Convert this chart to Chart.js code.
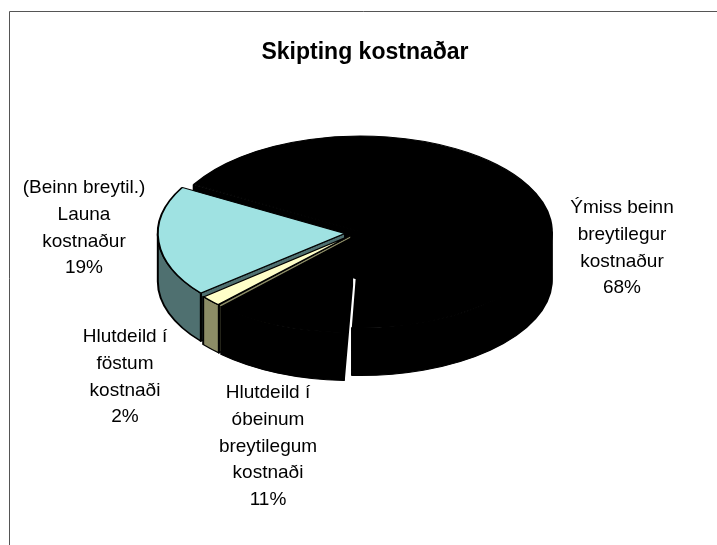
<!DOCTYPE html>
<html><head><meta charset="utf-8">
<style>html,body{margin:0;padding:0;background:#fff}canvas{display:block}</style>
<script src="https://cdn.jsdelivr.net/npm/chart.js@4"></script>
</head><body><canvas id="c" width="717" height="545"></canvas>
<script>
const titleText = 'Skipting kostnaðar';
const categories = [['Ýmiss beinn','breytilegur','kostnaður'],['Hlutdeild í','óbeinum','breytilegum','kostnaði'],['Hlutdeild í','föstum','kostnaði'],['(Beinn breytil.)','Launa','kostnaður']];
const values = [67.5, 11.4, 1.9, 19.2];
const topColors = ['#000000','#000000','#FFFFC8','#9FE2E2'];
const sideColors = ['#000000','#000000','#8C8C66','#4F7070'];
const explode = [20, 40, 26, 44];
const paintOrder = [0, 3, 2, 1];
const labelCentres = [[622,208],[268,393],[125,337],[84,188]];
const lineStep = 26.7;
const pieCentre = [356, 233], squash = 0.5, depth = 96;
const font = '19px "Liberation Sans"';

const pie3d = {
  id: 'pie3d',
  beforeDraw(chart) {
    const c = chart.ctx; c.save();
    c.strokeStyle = '#555'; c.lineWidth = 1; c.beginPath();
    c.moveTo(9.5, 545); c.lineTo(9.5, 11.5); c.lineTo(717, 11.5); c.stroke(); c.restore();
  },
  beforeDatasetDraw(chart, args) {
    const c = chart.ctx, arcs = chart.getDatasetMeta(args.index).data;
    c.save();
    c.translate(pieCentre[0], pieCentre[1]); c.scale(1, squash); c.translate(-arcs[0].x, -arcs[0].y);
    paintOrder.forEach(i => {
      const a = arcs[i], off = explode[i] / 4, s = a.startAngle, e = a.endAngle, mid = (s + e) / 2;
      const fix = 1 - Math.sin(Math.min(Math.PI, e - s)), R = a.outerRadius + off * fix;
      c.save();
      c.translate(Math.cos(mid) * off, Math.sin(mid) * off);
      c.fillStyle = sideColors[i]; c.strokeStyle = '#000'; c.lineWidth = 2; c.lineJoin = 'round';
      const cut = ang => {
        c.beginPath(); c.moveTo(a.x, a.y); c.lineTo(a.x + R * Math.cos(ang), a.y + R * Math.sin(ang));
        c.lineTo(a.x + R * Math.cos(ang), a.y + depth + R * Math.sin(ang)); c.lineTo(a.x, a.y + depth);
        c.closePath(); c.fill(); c.stroke();
      };
      if (Math.cos(s) < 0) cut(s);
      if (Math.cos(e) > 0) cut(e);
      for (let k = -1; k <= 1; k++) {
        const lo = Math.max(s, k * 2 * Math.PI), hi = Math.min(e, k * 2 * Math.PI + Math.PI);
        if (hi > lo) {
          c.beginPath(); c.arc(a.x, a.y, R, lo, hi); c.arc(a.x, a.y + depth, R, hi, lo, true);
          c.closePath(); c.fill(); c.stroke();
        }
      }
      c.restore();
      a.draw(c);
    });
    c.restore();
    return false;
  },
  afterDraw(chart) {
    const c = chart.ctx; c.save();
    c.font = font; c.fillStyle = '#000'; c.textAlign = 'center'; c.textBaseline = 'middle';
    const rounded = values.map(v => Math.round(v));
    categories.forEach((lines, i) => {
      [...lines, rounded[i] + '%'].forEach((t, j) => c.fillText(t, labelCentres[i][0], labelCentres[i][1] + j * lineStep));
    });
    c.restore();
  }
};

new Chart(document.getElementById('c'), {
  type: 'pie',
  data: { labels: categories.map(l => l.join(' ')), datasets: [{
    data: values, backgroundColor: topColors, borderColor: '#000', borderWidth: 2,
    offset: explode, clip: false, borderAlign: 'center' }] },
  options: {
    responsive: false, animation: false, rotation: -60.5,
    events: [],
    layout: { padding: { left: 155.5, right: 142.5, top: 39, bottom: 58 } },
    plugins: { legend: { display: false }, tooltip: { enabled: false },
      title: { display: true, text: titleText, color: '#000', padding: 0,
        font: { family: '"Liberation Sans"', size: 23, weight: 'bold' } } }
  },
  plugins: [pie3d]
});
</script></body></html>
